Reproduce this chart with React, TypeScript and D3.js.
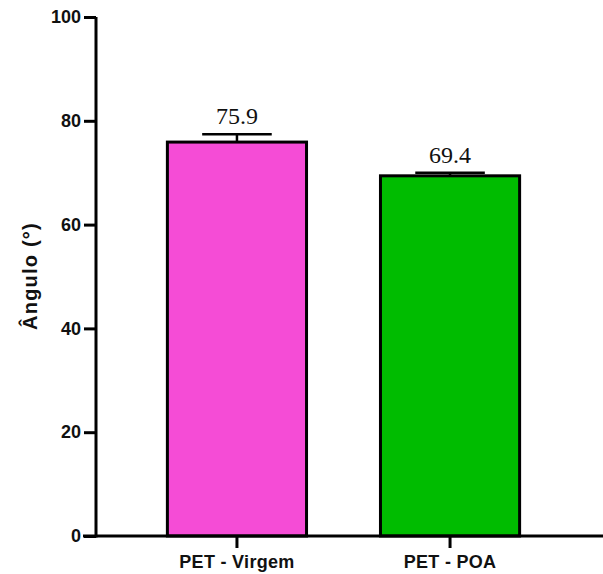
import React, { useEffect, useRef } from "react";
import * as d3 from "d3";

const categories = ["PET - Virgem", "PET - POA"];
const means = [75.9, 69.4];
const errors = [1.5, 0.6];
const valueLabels = ["75.9", "69.4"];
const colors = ["#F54CD6", "#00BC00"];
const yTicks = [0, 20, 40, 60, 80, 100];

const App = () => {
  const svgRef = useRef<SVGSVGElement>(null);

  useEffect(() => {
    const width = 603;
    const height = 574;
    const axisX = 96;
    const axisY = 536;

    const svg = d3.select(svgRef.current)
      .attr("width", width)
      .attr("height", height)
      .attr("viewBox", [0, 0, width, height]);
    svg.selectAll("*").remove();

    const x = d3.scaleBand<string>()
      .domain(categories)
      .range([axisX, 591])
      .paddingInner(0.347)
      .paddingOuter(0.335);

    const y = d3.scaleLinear()
      .domain([0, 100])
      .range([axisY, 17]);

    const data = categories.map((c, i) => ({ c, mean: means[i], err: errors[i], label: valueLabels[i], color: colors[i] }));

    // bars
    svg.append("g")
      .selectAll("rect")
      .data(data)
      .join("rect")
      .attr("x", (d) => x(d.c)!)
      .attr("y", (d) => y(d.mean))
      .attr("width", x.bandwidth())
      .attr("height", (d) => y(0) - y(d.mean))
      .attr("fill", (d) => d.color)
      .attr("stroke", "#000")
      .attr("stroke-width", 3);

    // error bars (upper only)
    const eb = svg.append("g").attr("stroke", "#000").attr("stroke-width", 2.5);
    data.forEach((d) => {
      const cx = x(d.c)! + x.bandwidth() / 2;
      const capHalf = x.bandwidth() / 4;
      eb.append("line")
        .attr("x1", cx).attr("x2", cx)
        .attr("y1", y(d.mean)).attr("y2", y(d.mean + d.err));
      eb.append("line")
        .attr("x1", cx - capHalf).attr("x2", cx + capHalf)
        .attr("y1", y(d.mean + d.err)).attr("y2", y(d.mean + d.err));
    });

    // value labels
    svg.append("g")
      .selectAll("text")
      .data(data)
      .join("text")
      .attr("x", (d) => x(d.c)! + x.bandwidth() / 2)
      .attr("y", (d) => y(d.mean + d.err) - 10)
      .attr("text-anchor", "middle")
      .attr("font-family", "'Liberation Serif', 'Times New Roman', serif")
      .attr("font-size", 24)
      .attr("fill", "#111")
      .text((d) => d.label);

    // y axis
    svg.append("g")
      .attr("transform", `translate(${axisX},0)`)
      .call(d3.axisLeft(y).tickValues(yTicks).tickSize(12).tickPadding(3).tickSizeOuter(0))
      .call((g) => g.select(".domain").attr("stroke-width", 3).attr("d", `M0,${axisY + 1.5}V${y(100)}`))
      .call((g) => g.selectAll(".tick line").attr("stroke-width", 3))
      .call((g) => g.selectAll(".tick text")
        .attr("font-family", "'Liberation Sans', Arial, sans-serif")
        .attr("font-weight", "bold")
        .attr("font-size", 18)
        .attr("fill", "#111"));

    // x axis
    svg.append("g")
      .attr("transform", `translate(0,${axisY})`)
      .call(d3.axisBottom(x).tickSize(12).tickPadding(7).tickSizeOuter(0))
      .call((g) => g.select(".domain").attr("stroke-width", 3).attr("d", `M${axisX - 13},0H${width}`))
      .call((g) => g.selectAll(".tick line").attr("stroke-width", 3))
      .call((g) => g.selectAll(".tick text")
        .attr("font-family", "'Liberation Sans', Arial, sans-serif")
        .attr("font-weight", "bold")
        .attr("font-size", 18)
        .attr("letter-spacing", 0.3)
        .attr("fill", "#111"));

    // y axis title
    svg.append("text")
      .attr("transform", `translate(37,276) rotate(-90)`)
      .attr("text-anchor", "middle")
      .attr("font-family", "'Liberation Sans', Arial, sans-serif")
      .attr("font-weight", "bold")
      .attr("font-size", 20)
      .attr("letter-spacing", 1.2)
      .attr("fill", "#111")
      .text("Ângulo (°)");
  }, []);

  return (
    <svg ref={svgRef} style={{ position: "absolute", left: 0, top: 0 }}></svg>
  );
};

export default App;
